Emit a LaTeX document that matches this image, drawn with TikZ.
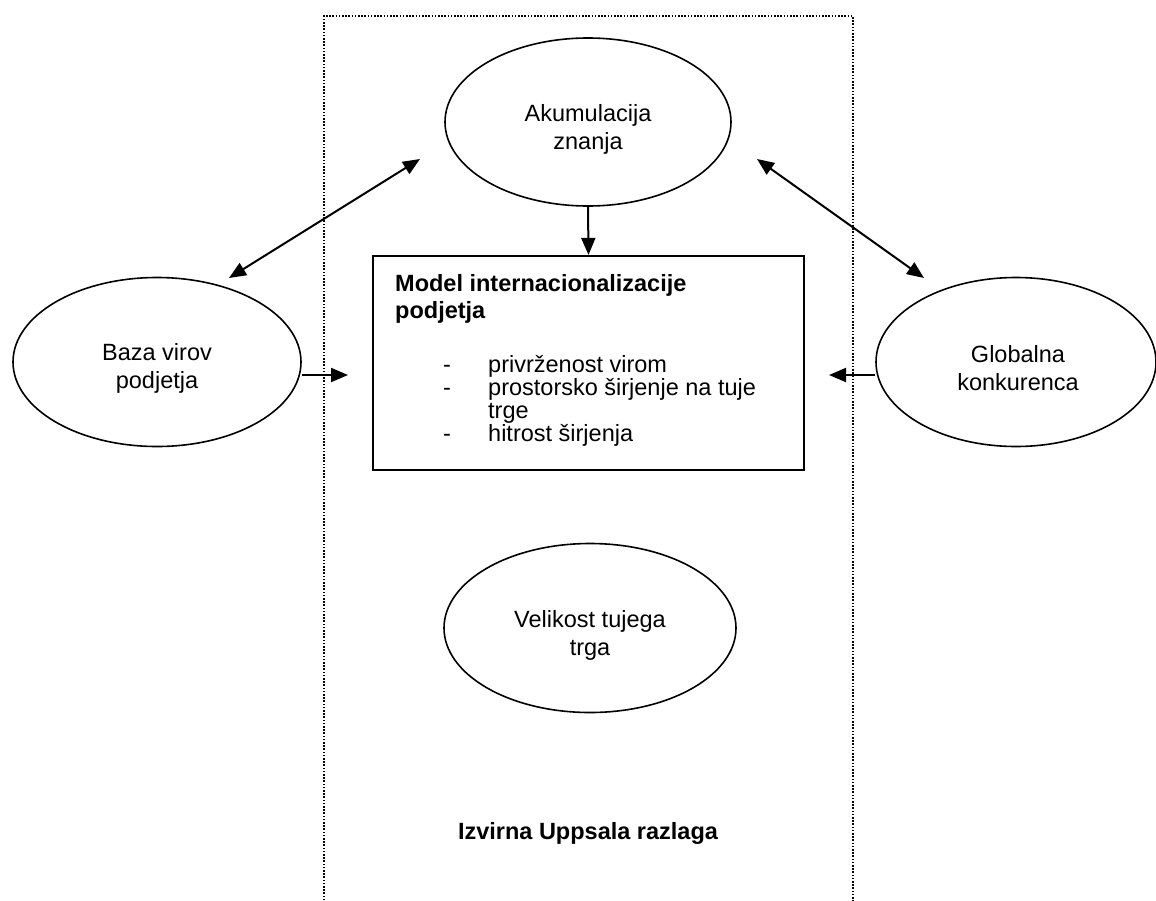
\documentclass[tikz,border=0pt]{standalone}
\usepackage{fontspec}
\setmainfont{Liberation Sans}
\usetikzlibrary{arrows.meta,shapes.geometric}

\tikzset{
  oval/.style={draw, line width=1.6pt, ellipse, inner sep=0pt},
  ovaltxt/.style={inner sep=0pt, align=center, font=\fontsize{23.5}{28}\selectfont},
  modelbox/.style={draw, line width=2.2pt, rectangle, inner sep=0pt},
  arr/.style={line width=2pt, -{Triangle[length=17pt,width=14pt]}},
  dblarr/.style={line width=2pt, {Triangle[length=17pt,width=14pt]}-{Triangle[length=17pt,width=14pt]}},
  frame/.style={line width=1.3pt, dash pattern=on 1.6pt off 1.6pt},
  boxtxt/.style={anchor=base west, inner sep=0pt, align=left, font=\fontsize{23.5}{23}\selectfont},
}

\begin{document}
\begin{tikzpicture}[x=1pt,y=-1pt]
  \useasboundingbox (0,0) rectangle (1156,900);

  % dotted frame around the original model (open at the bottom)
  \draw[frame] (324,910) -- (324,16) -- (853,16) -- (853,910);

  % ovals and their labels
  \node[oval, minimum width=286pt, minimum height=168pt] (akum) at (588,122) {};
  \node[ovaltxt] (akumtxt) at (588,129) {Akumulacija\\znanja};
  \node[oval, minimum width=288pt, minimum height=169pt] (baza) at (157,362) {};
  \node[ovaltxt] (bazatxt) at (157,368) {Baza virov\\podjetja};
  \node[oval, minimum width=280pt, minimum height=169pt] (glob) at (1016,362) {};
  \node[ovaltxt] (globtxt) at (1018,368) {Globalna\\konkurenca};
  \node[oval, minimum width=292pt, minimum height=169pt] (veli) at (590,628) {};
  \node[ovaltxt] (velitxt) at (590,635) {Velikost tujega\\trga};

  % central box (multi-line labels are anchored at the baseline of their last line)
  \node[modelbox, minimum width=431pt, minimum height=214pt] (model) at (588.5,363) {};
  \node[boxtxt, font=\fontsize{23.5}{27}\selectfont\bfseries] (title) at (395,318)
    {Model internacionalizacije\\podjetja};
  \node[boxtxt] (dashes) at (443,441) {-\\-\\\strut\\-};
  \node[boxtxt] (items) at (488,441)
    {privrženost virom\\prostorsko širjenje na tuje\\trge\\hitrost širjenja};

  % caption
  \node[font=\fontsize{23.5}{27}\selectfont\bfseries, inner sep=0pt, anchor=base] (cap) at (588,839)
    {Izvirna Uppsala razlaga};

  % arrow end points
  \coordinate (akumL) at (420,159);
  \coordinate (bazaT) at (229,278);
  \coordinate (akumR) at (757,159);
  \coordinate (globT) at (924,278);
  \coordinate (bazaTip) at (348,375);
  \coordinate (globTip) at (829,375);

  % connectors
  \draw[dblarr] (akumL) -- (bazaT);
  \draw[dblarr] (akumR) -- (globT);
  \draw[arr] (akum.south) -- (model.north);
  \draw[arr] (baza.east |- bazaTip) -- (bazaTip);
  \draw[arr] (glob.west |- globTip) -- (globTip);
\end{tikzpicture}
\end{document}
